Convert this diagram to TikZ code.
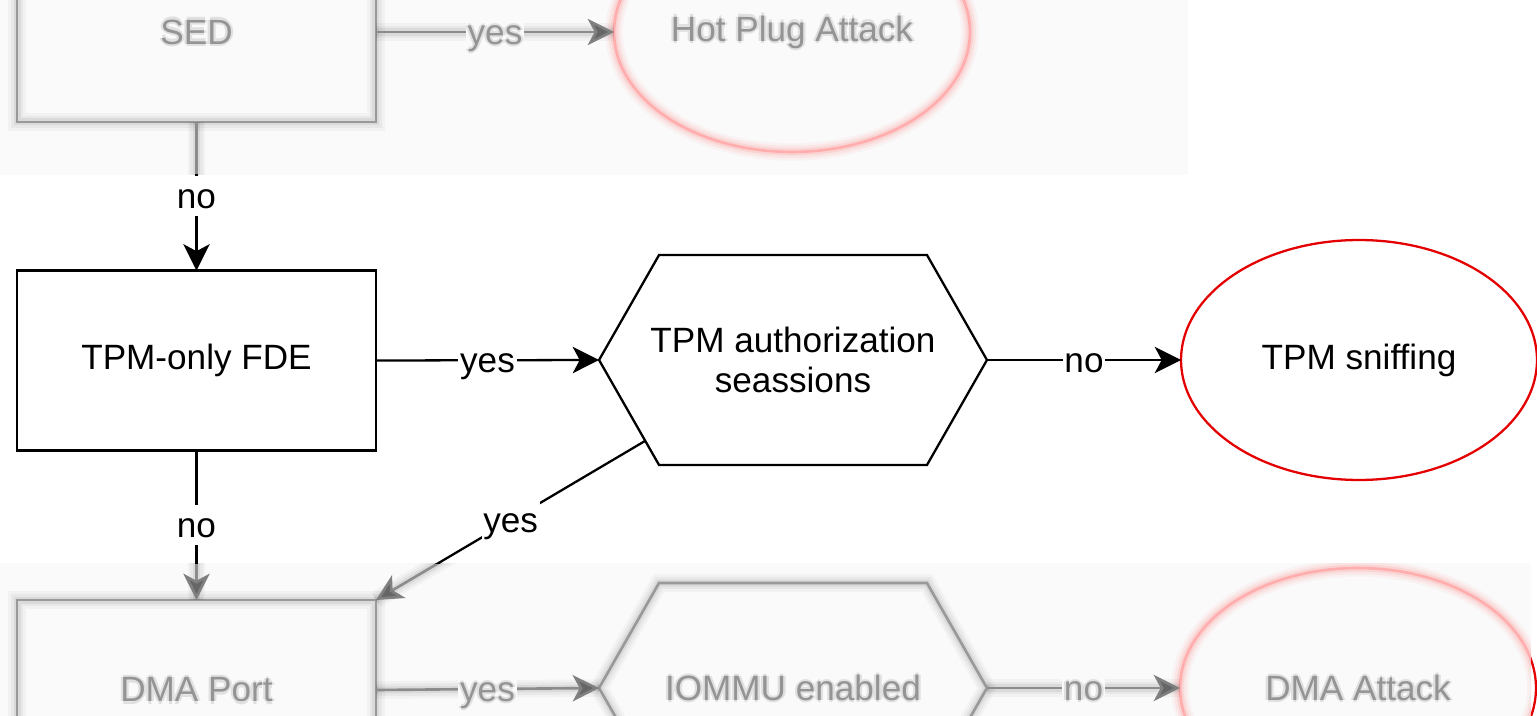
\documentclass[tikz,border=0pt]{standalone}
\usepackage{fontspec}
\setmainfont{Liberation Sans}
\usetikzlibrary{arrows.meta,shapes.geometric,calc}

\definecolor{bandgray}{RGB}{250,250,250}
\definecolor{endred}{RGB}{228,0,0}

% text seen through a soft haze
\newcommand\softtext[1]{\leavevmode
  \rlap{\kern-1.3pt\textcolor{black!12}{#1}}%
  \rlap{\kern1.3pt\textcolor{black!12}{#1}}%
  \rlap{\raisebox{1.3pt}{\textcolor{black!12}{#1}}}%
  \rlap{\raisebox{-1.3pt}{\textcolor{black!12}{#1}}}%
  \textcolor{black!42}{#1}}

% hexagonal outline around a rectangular node
\newcommand\hexoutline[2]{%
  \draw[#2] (#1.west) -- ([xshift=1.2cm]#1.north west) -- ([xshift=-1.2cm]#1.north east)
    -- (#1.east) -- ([xshift=-1.2cm]#1.south east) -- ([xshift=1.2cm]#1.south west) -- cycle;}

\tikzset{
  every node/.style={font=\fontsize{20}{23}\selectfont},
  conn/.style={draw=black, line width=1.3pt},
  flow/.style={conn, -{Stealth[length=15pt,width=15pt,inset=4pt]}},
  stepbox/.style={rectangle, draw, line width=1.3pt, minimum width=7.18cm,
    minimum height=3.6cm, inner sep=0pt, outer sep=0pt},
  hexnode/.style={rectangle, minimum width=7.76cm, minimum height=4.2cm,
    inner sep=0pt, outer sep=0pt, align=center},
  endstate/.style={ellipse, draw=endred, line width=1.3pt, minimum width=7.12cm,
    minimum height=4.8cm, inner sep=0pt, outer sep=0pt},
  lbl/.style={fill=white, inner sep=0pt, inner xsep=1pt, text height=18.5pt, text depth=4.5pt},
  % hazy variants
  hzshape/.style={draw=black!40, line width=1.5pt,
    preaction={draw=black, draw opacity=.03, line width=10pt},
    preaction={draw=black, draw opacity=.04, line width=7pt},
    preaction={draw=black, draw opacity=.06, line width=4pt}},
  hzred/.style={draw=red!32, line width=1.5pt,
    preaction={draw=red, draw opacity=.03, line width=10pt},
    preaction={draw=red, draw opacity=.05, line width=7pt},
    preaction={draw=red, draw opacity=.08, line width=4pt}},
  hzline/.style={draw=black!45, line width=1.5pt,
    preaction={draw=black, draw opacity=.03, line width=10pt, -},
    preaction={draw=black, draw opacity=.04, line width=7pt, -},
    preaction={draw=black, draw opacity=.06, line width=4pt, -}},
  hzflow/.style={hzline, -{Stealth[length=15pt,width=15pt,inset=4pt,color=black!50,fill=black!60]}},
  hzbox/.style={stepbox, hzshape},
  hzend/.style={endstate, hzred},
  hzlbl/.style={lbl, fill=bandgray},
}

\begin{document}
\begin{tikzpicture}[x=0.02cm, y=-0.02cm]
\useasboundingbox (0,0) rectangle (1537,716);
\clip (0,0) rectangle (1537,716);

% soft bands at top and bottom
\fill[bandgray] (0,0) rectangle (1188,175);
\fill[bandgray] (0,563) rectangle (1531,716);

% middle row
\node[stepbox] (tpm) at (196.5,360.5) {TPM-only FDE};
\node[hexnode] (auth) at (793,360) {TPM authorization\\seassions};
\hexoutline{auth}{conn}
\node[endstate] (sniff) at (1359,360) {TPM sniffing};

% top row (hazy)
\begin{scope}
  \clip (0,0) rectangle (1537,175);
  \node[hzbox] (sed) at (196.5,32) {\softtext{SED}};
  \node[hzend] (hotplug) at (792,32) {\softtext{Hot Plug Attack}};
  \draw[hzflow] (sed.east) -- node[hzlbl] {\softtext{yes}} (hotplug.west);
  \draw[hzline] (sed.south) -- (tpm.north);
\end{scope}

% bottom row (hazy)
\coordinate (authsw) at ([xshift=1.2cm]auth.south west);
\coordinate (diagstart) at ($(auth.west)!0.77!(authsw)$);
\begin{scope}
  \clip (0,563) rectangle (1531,716);
  \node[hzbox] (dma) at (196.5,690) {\softtext{DMA Port}};
  \node[hexnode] (iommu) at (793,688) {\softtext{IOMMU enabled}};
  \hexoutline{iommu}{hzshape}
  \node[hzend] (dmaatt) at (1358,688) {\softtext{DMA Attack}};
  \draw[hzflow] (tpm.south) -- (dma.north);
  \draw[hzflow] (diagstart) -- (dma.north east);
  \draw[hzflow] (dma.east) -- node[hzlbl] {\softtext{yes}} (iommu.west);
  \draw[hzflow] (iommu.east) -- node[hzlbl] {\softtext{no}} (dmaatt.west);
\end{scope}
\begin{scope}
  \clip (1531,563) rectangle (1537,716);
  \draw[endred, line width=1.3pt] (dmaatt.center) ellipse [x radius=3.56cm, y radius=2.4cm];
\end{scope}

% sharp connectors of the middle band
\begin{scope}
  \clip (0,175) rectangle (1537,563);
  \draw[flow] (sed.south) -- node[lbl] {no} (tpm.north);
  \draw[flow] (tpm.east) -- node[lbl] {yes} (auth.west);
  \draw[flow] (auth.east) -- node[lbl] {no} (sniff.west);
  \draw[flow] (tpm.south) -- node[lbl] {no} (dma.north);
  \draw[conn] (diagstart) -- node[lbl] {yes} (dma.north east);
\end{scope}
\end{tikzpicture}
\end{document}
